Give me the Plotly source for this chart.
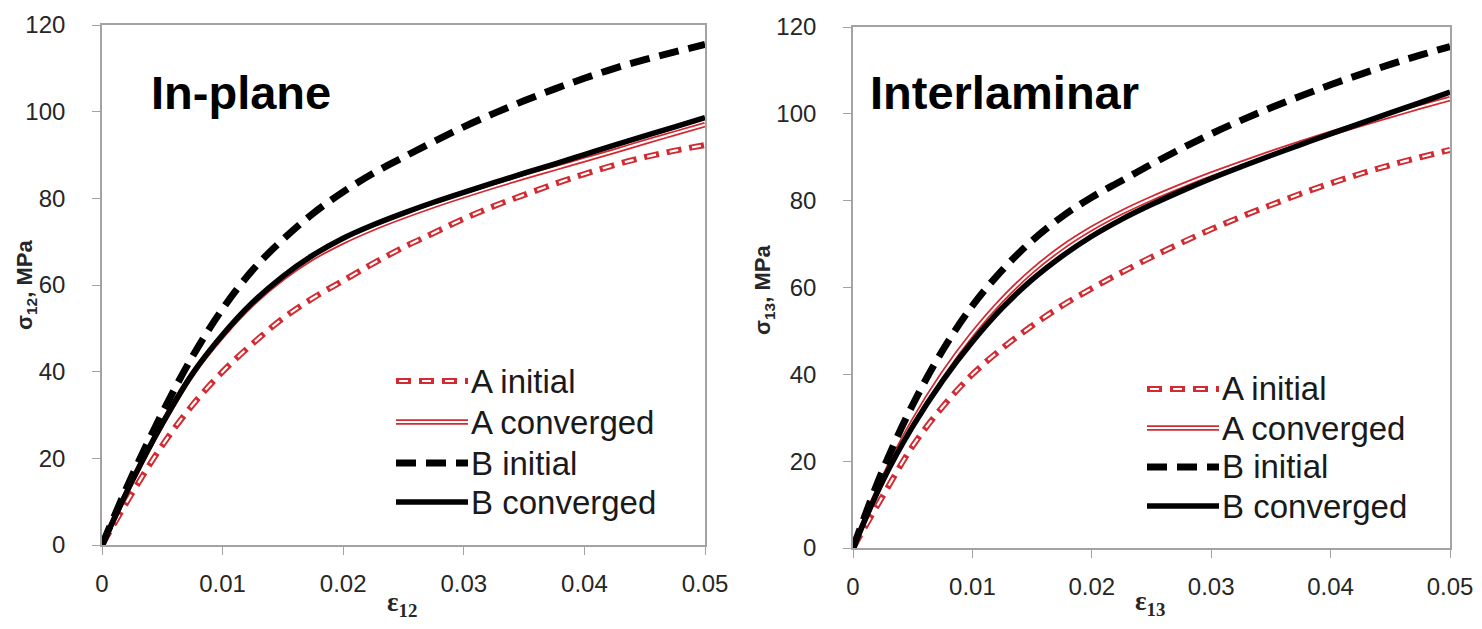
import plotly.graph_objects as go

# page body has an 8px margin: build the figure slightly smaller and shift coordinates
OFF = 8
W, H = 1482 - OFF, 629 - OFF

# ---------------- data ----------------
strain = [0, 0.0025, 0.005, 0.0075, 0.01, 0.0125, 0.015, 0.0175, 0.02, 0.0225, 0.025,
          0.0275, 0.03, 0.0325, 0.035, 0.0375, 0.04, 0.0425, 0.045, 0.0475, 0.05]

# In-plane (sigma_12 vs eps_12)
inplane_A_initial = [0, 12, 23, 32.3, 40, 46.5, 52.3, 57, 61, 65, 68.7,
                     72, 75.3, 78.2, 80.8, 83.3, 85.6, 87.7, 89.5, 91, 92.3]
inplane_A_converged = [0, 14.8, 28, 39.5, 48.3, 55.7, 61.6, 66.3, 70, 73.1, 75.8,
                       78.3, 80.6, 82.8, 84.9, 86.9, 88.9, 90.9, 93, 95, 97]
inplane_B_initial = [0, 16, 30.5, 43.5, 54.5, 63.5, 70.5, 76.5, 81.5, 85.8, 89.5,
                     93.1, 96.5, 99.6, 102.5, 105.2, 107.7, 110, 112, 113.8, 115.5]
inplane_B_converged = [0, 14.8, 28, 39.5, 48.5, 56, 62, 66.9, 70.8, 73.9, 76.6,
                       79.1, 81.4, 83.6, 85.8, 87.9, 90.1, 92.3, 94.4, 96.5, 98.6]

# Interlaminar (sigma_13 vs eps_13)
inter_A_initial = [0, 12, 23.5, 32.5, 40, 46, 51.2, 55.8, 59.8, 63.5, 67,
                   70.3, 73.4, 76.3, 79, 81.6, 84, 86.2, 88.2, 90, 91.7]
inter_A_converged = [0, 15.8, 29, 40, 49.3, 57.2, 63.8, 69.2, 73.6, 77.3, 80.5,
                     83.4, 86.1, 88.6, 91, 93.3, 95.5, 97.6, 99.6, 101.6, 103.5]
inter_B_initial = [0, 18, 33, 45.5, 55.8, 64, 70.8, 76.3, 80.8, 84.6, 88.4,
                   92, 95.4, 98.5, 101.4, 104.1, 106.7, 109.1, 111.4, 113.5, 115.5]
inter_B_converged = [0, 15.5, 28, 38.5, 47.5, 55.3, 61.8, 67.2, 71.8, 75.7, 79.1,
                     82.2, 85.1, 87.8, 90.4, 92.9, 95.4, 97.8, 100.2, 102.6, 105]

series_names = ["A initial", "A converged", "B initial", "B converged"]
panel_titles = ["In-plane", "Interlaminar"]
y_titles = ["σ<sub>12</sub>, MPa", "σ<sub>13</sub>, MPa"]
x_titles = ["ε<sub>12</sub>", "ε<sub>13</sub>"]
x_tickvals = [0, 0.01, 0.02, 0.03, 0.04, 0.05]
x_ticktext = ["0", "0.01", "0.02", "0.03", "0.04", "0.05"]
y_tickvals = [0, 20, 40, 60, 80, 100, 120]
y_ticktext = ["0", "20", "40", "60", "80", "100", "120"]

panels = [
    [inplane_A_initial, inplane_A_converged, inplane_B_initial, inplane_B_converged],
    [inter_A_initial, inter_A_converged, inter_B_initial, inter_B_converged],
]

# ---------------- styles ----------------
RED = "#d22a30"
FONT = "Liberation Sans, Arial, sans-serif"
SERIF = "Liberation Serif, Times New Roman, serif"
AXC = "#a3a3a3"
TXT = "#262626"

A_INIT_OUT = dict(color=RED, width=6, dash="15px,8px")
A_INIT_IN = dict(color="white", width=2.2, dash="0px,3px,9px,11px")
A_CONV_OUT = dict(color=RED, width=5.5)
A_CONV_IN = dict(color="white", width=2)
B_INIT = dict(color="black", width=7, dash="20px,10px")
B_CONV = dict(color="black", width=5.5)

fig = go.Figure()

def px2x(px):
    return (px - OFF) / W

def px2y(py):
    return 1 - (py - OFF) / H

xdom = [[px2x(102), px2x(705)], [px2x(853), px2x(1450)]]
ydom = [[px2y(545), px2y(25)], [px2y(548), px2y(27)]]

for i, data in enumerate(panels):
    xa = "x" if i == 0 else "x2"
    ya = "y" if i == 0 else "y2"
    a_init, a_conv, b_init, b_conv = data
    common = dict(x=strain, mode="lines", xaxis=xa, yaxis=ya, showlegend=False,
                  hoverinfo="skip", line_shape="spline")
    fig.add_trace(go.Scatter(y=a_init, line=A_INIT_OUT, name=series_names[0], **common))
    fig.add_trace(go.Scatter(y=a_init, line=A_INIT_IN, name=series_names[0], **common))
    fig.add_trace(go.Scatter(y=a_conv, line=A_CONV_OUT, name=series_names[1], **common))
    fig.add_trace(go.Scatter(y=a_conv, line=A_CONV_IN, name=series_names[1], **common))
    fig.add_trace(go.Scatter(y=b_init, line=B_INIT, name=series_names[2], **common))
    fig.add_trace(go.Scatter(y=b_conv, line=B_CONV, name=series_names[3], **common))

axis_common = dict(
    showline=True, linecolor=AXC, linewidth=1.6, mirror=True,
    showgrid=False, zeroline=False, automargin=False,
    ticks="outside", ticklen=8, tickwidth=1.4, tickcolor=AXC,
    tickfont=dict(family=FONT, size=24, color=TXT),
)

fig.update_layout(
    width=W, height=H,
    margin=dict(l=0, r=0, t=0, b=0, autoexpand=False),
    paper_bgcolor="white", plot_bgcolor="white",
    xaxis=dict(domain=xdom[0], range=[0, 0.05], anchor="y",
               tickvals=x_tickvals, ticktext=x_ticktext, ticklabelstandoff=8, **axis_common),
    yaxis=dict(domain=ydom[0], range=[0, 120], anchor="x",
               tickvals=y_tickvals, ticktext=y_ticktext, ticklabelstandoff=22, **axis_common),
    xaxis2=dict(domain=xdom[1], range=[0, 0.05], anchor="y2",
                tickvals=x_tickvals, ticktext=x_ticktext, ticklabelstandoff=8, **axis_common),
    yaxis2=dict(domain=ydom[1], range=[0, 120], anchor="x2",
                tickvals=y_tickvals, ticktext=y_ticktext, ticklabelstandoff=22, **axis_common),
)

annotations = []
shapes = []

# panel titles
title_pos = [(149, 93), (868, 93)]
for (tx, ty), t in zip(title_pos, panel_titles):
    annotations.append(dict(x=px2x(tx), y=px2y(ty), xref="paper", yref="paper",
                            xanchor="left", yanchor="middle", showarrow=False,
                            text=f"<b>{t}</b>", font=dict(family=FONT, size=47, color="black")))

# axis titles
ytitle_pos = [(26, 285), (764, 290)]
for (tx, ty), t in zip(ytitle_pos, y_titles):
    annotations.append(dict(x=px2x(tx), y=px2y(ty), xref="paper", yref="paper",
                            xanchor="center", yanchor="middle", showarrow=False, textangle=-90,
                            text=f"<b>{t}</b>", font=dict(family=FONT, size=22, color=TXT)))
xtitle_pos = [(402, 604), (1150, 603)]
for (tx, ty), t in zip(xtitle_pos, x_titles):
    annotations.append(dict(x=px2x(tx), y=px2y(ty), xref="paper", yref="paper",
                            xanchor="center", yanchor="middle", showarrow=False,
                            text=f"<b>{t}</b>", font=dict(family=SERIF, size=27, color=TXT)))

# legends (drawn as shapes + text)
legend_cfg = [
    dict(x0=396, x1=468, rows=[381, 422, 463, 502], tx=469),
    dict(x0=1147, x1=1219, rows=[389, 428, 467, 506], tx=1220),
]
styles = [
    [A_INIT_OUT, A_INIT_IN],
    [A_CONV_OUT, A_CONV_IN],
    [B_INIT],
    [B_CONV],
]
for cfg in legend_cfg:
    for row_y, name, sty in zip(cfg["rows"], series_names, styles):
        for s in sty:
            shapes.append(dict(type="line", xref="paper", yref="paper",
                               x0=px2x(cfg["x0"]), x1=px2x(cfg["x1"]),
                               y0=px2y(row_y), y1=px2y(row_y),
                               line=dict(color=s["color"], width=s["width"],
                                         dash=s.get("dash", "solid"))))
        annotations.append(dict(x=px2x(cfg["tx"]), y=px2y(row_y), xref="paper", yref="paper",
                                xanchor="left", yanchor="middle", showarrow=False,
                                text=name, font=dict(family=FONT, size=33, color="#1a1a1a")))

fig.update_layout(annotations=annotations, shapes=shapes)

fig.write_html("out.html")
